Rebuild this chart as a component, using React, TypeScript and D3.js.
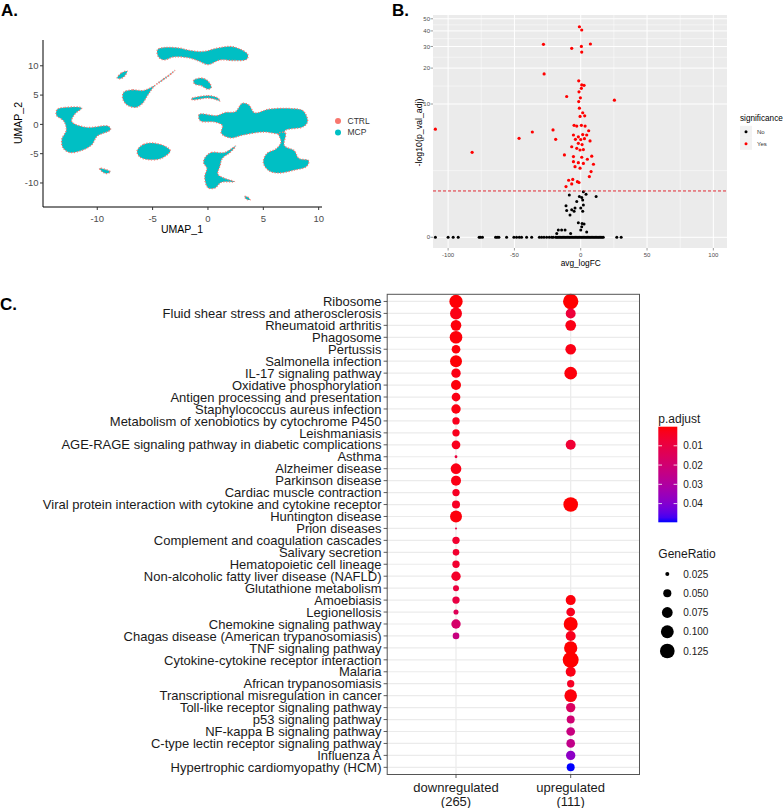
import React from "react";
import * as d3 from "d3";

const FONT = "'Liberation Sans', Arial, Helvetica, sans-serif";

// ---------------- Panel A: UMAP ----------------
const umapGroups = ["CTRL", "MCP"];
const umapColors = ["#F8766D", "#00BFC4"];
const umapTicks = [-10, -5, 0, 5, 10];
// cluster outlines (UMAP_1, UMAP_2)
const clusterTop = [[-4.56, 12.74], [-4.0, 13.1], [-2.5, 13.0], [-1.6, 12.6], [-0.4, 12.45], [0.8, 13.0], [2.0, 13.3], [2.9, 12.85], [3.6, 11.9], [3.5, 11.1], [2.3, 10.9], [1.1, 11.0], [0.0, 10.2], [-0.7, 10.7], [-1.6, 11.3], [-3.1, 11.5], [-4.0, 11.0], [-4.5, 11.6]];
const clusterSmallTop = [[-8.2, 7.9], [-7.8, 8.8], [-7.3, 9.1], [-7.5, 8.3], [-7.9, 7.8]];
const clusterTail = [[-7.6, 5.5], [-6.8, 5.9], [-5.8, 5.8], [-4.5, 7.0], [-3.2, 8.8], [-3.0, 9.2], [-3.4, 8.6], [-4.8, 6.6], [-5.5, 4.8], [-5.9, 3.6], [-6.5, 2.9], [-7.3, 3.3], [-7.7, 4.4]];
const clusterMid = [[-1.3, 7.5], [-0.6, 7.9], [0.0, 7.4], [0.3, 6.3], [0.0, 6.0], [-0.6, 6.6], [-1.2, 6.9]];
const clusterThin = [[-1.5, 4.4], [0.0, 4.9], [0.8, 4.6], [1.1, 4.0], [0.6, 4.3], [0.0, 4.5], [-1.4, 4.2]];
const clusterLeft = [[-13.6, 2.6], [-12.9, 2.9], [-11.4, 2.8], [-12.0, 1.8], [-12.3, 0.5], [-11.0, -0.5], [-9.0, -0.3], [-8.8, -0.9], [-10.0, -2.0], [-10.5, -3.5], [-11.5, -4.5], [-12.5, -4.8], [-13.1, -4.0], [-13.2, -2.5], [-12.8, -1.0], [-13.0, 0.5], [-13.7, 1.6]];
const clusterOval = [[-6.4, -4.5], [-5.8, -3.4], [-4.8, -3.2], [-3.8, -3.8], [-3.4, -4.5], [-4.2, -5.8], [-5.5, -6.0], [-6.2, -5.5]];
const clusterTiny1 = [[-9.8, -7.5], [-9.4, -7.6], [-8.8, -8.1], [-9.2, -8.4], [-9.6, -8.0]];
const clusterRight = [[-0.8, 1.7], [0.8, 1.5], [1.5, 2.0], [2.5, 2.2], [3.1, 3.6], [3.7, 3.3], [4.2, 2.0], [5.5, 2.6], [7.5, 2.7], [8.6, 2.3], [9.0, 0.5], [8.6, -0.4], [7.0, -1.0], [6.8, -1.6], [5.0, -1.3], [3.2, -1.8], [2.0, -2.3], [1.2, -1.5], [1.3, -0.2], [0.6, 0.4], [-0.7, 0.6]];
const clusterBottomRight = [[6.4, -1.5], [7.0, -1.5], [6.9, -3.6], [7.8, -4.5], [8.2, -5.8], [9.1, -6.2], [8.9, -7.2], [7.8, -7.8], [6.4, -8.3], [5.5, -7.9], [5.0, -6.5], [5.3, -5.0], [6.2, -4.1], [6.6, -3.0]];
const clusterBottomMid = [[-0.2, -5.5], [0.3, -4.8], [1.5, -4.8], [2.5, -3.7], [2.0, -4.8], [1.3, -5.8], [1.1, -7.0], [0.9, -8.5], [1.5, -9.2], [2.4, -9.8], [1.2, -9.9], [0.6, -10.9], [0.0, -10.8], [-0.3, -9.0], [-0.1, -7.5], [-0.4, -6.5]];
const clusterTiny2 = [[3.3, -12.3], [3.6, -12.4], [3.8, -12.9], [3.5, -12.8]];
const clusters = [clusterTop, clusterSmallTop, clusterTail, clusterMid, clusterThin, clusterLeft, clusterOval, clusterTiny1, clusterRight, clusterBottomRight, clusterBottomMid, clusterTiny2];

// ---------------- Panel B: volcano ----------------
const sigX = [-1.0, 0.75, -28.1, 0.5, 7.3, -6.8, 0.75, -27.6, -1.5, 0.75, 2.5, 0.5, -1.3, -10.6, -0.25, 25.4, -1.5, -1.0, 1.5, -0.5, 3.0, -109.6, -20.9, -5.0, -3.0, 0.5, 3.3, -36.5, 6.0, -46.5, -18.9, -5.5, -1.8, 1.5, 4.5, -4.0, 0, 2.8, 7.0, -1.8, 1.0, -6.8, -3.0, -0.5, 2.0, -81.9, -12.3, -5.5, 0.75, 5.0, 8.3, -5.5, -1.8, 2.0, 9.6, -4.3, -0.5, 7.8, 6.5, -9.1, -6.0, -2.5, -1.3, -11.1, -6.8];
const sigY = [43.2, 40.7, 31.2, 30.0, 31.4, 29.0, 27.0, 17.9, 15.7, 14.5, 14.4, 13.6, 12.7, 11.6, 11.3, 10.8, 10.5, 9.2, 8.4, 7.8, 7.9, 6.0, 5.9, 6.5, 6.4, 6.5, 6.4, 5.65, 5.8, 4.93, 4.83, 5.3, 5.1, 5.35, 5.3, 4.83, 4.8, 4.9, 4.66, 4.42, 4.3, 4.1, 3.96, 3.81, 3.85, 3.61, 3.4, 3.27, 3.22, 3.07, 3.3, 2.9, 2.83, 2.78, 2.72, 2.56, 2.47, 2.26, 1.98, 1.79, 1.83, 1.72, 1.68, 1.49, 1.61];
const nsX = [2.0, -8.6, -1.0, 0.75, 4.0, 11.6, 1.5, -3.0, -11.1, 2.0, 0, -10.6, -6.8, -4.3, -5.0, 1.5, -8.1, -1.8, 1.0, 2.5, -16.9, -14.4, -11.8, 0, 0.75, 4.5, -18.1, -7.6];
const nsY = [1.27, 1.14, 1.08, 1.05, 1.17, 1.08, 0.96, 0.9, 0.76, 0.79, 0.69, 0.62, 0.64, 0.69, 0.6, 0.6, 0.49, 0.3, 0.28, 0.27, 0.14, 0.14, 0.14, 0.14, 0.21, 0.1, 0.07, 0.07];
const zeroX = [-109.6, -100, -96.2, -92.4, -76.6, -75.6, -74.1, -64.2, -63, -61.7, -55.9, -50.4, -48.4, -46.3, -44.6, -40.8, -37, -31.2, -29.5, -27.7, -25.7, -23.7, -21.9, -20.7, -18.9, -18, -17, -16, -15, -14, -13, -12, -11, -10, -9, -8, -7, -6, -5, -4, -3, -2, -1, 0, 1, 2, 3, 4, 5, 6, 7, 8, 9, 10, 11, 12, 13, 14, 15, 16, 17, 27.2, 30.5];
const volcanoXTicks = [-100, -50, 0, 50, 100];
const volcanoXMinor = [-75, -25, 25, 75];
const volcanoYTicks = [0, 10, 20, 30, 40, 50];
const padjCut = 1.301;
const sigLevels = ["No", "Yes"];
const sigColors = ["#000000", "#FF0000"];

// ---------------- Panel C: KEGG dot plot ----------------
const pathways = [
  "Ribosome", "Fluid shear stress and atherosclerosis", "Rheumatoid arthritis", "Phagosome", "Pertussis",
  "Salmonella infection", "IL-17 signaling pathway", "Oxidative phosphorylation", "Antigen processing and presentation",
  "Staphylococcus aureus infection", "Metabolism of xenobiotics by cytochrome P450", "Leishmaniasis",
  "AGE-RAGE signaling pathway in diabetic complications", "Asthma", "Alzheimer disease", "Parkinson disease",
  "Cardiac muscle contraction", "Viral protein interaction with cytokine and cytokine receptor", "Huntington disease",
  "Prion diseases", "Complement and coagulation cascades", "Salivary secretion", "Hematopoietic cell lineage",
  "Non-alcoholic fatty liver disease (NAFLD)", "Glutathione metabolism", "Amoebiasis", "Legionellosis",
  "Chemokine signaling pathway", "Chagas disease (American trypanosomiasis)", "TNF signaling pathway",
  "Cytokine-cytokine receptor interaction", "Malaria", "African trypanosomiasis", "Transcriptional misregulation in cancer",
  "Toll-like receptor signaling pathway", "p53 signaling pathway", "NF-kappa B signaling pathway",
  "C-type lectin receptor signaling pathway", "Influenza A", "Hypertrophic cardiomyopathy (HCM)"
];
const clusterNames = ["downregulated", "upregulated"];
const clusterCounts = ["(265)", "(111)"];
const downRatio = [0.106, 0.089, 0.074, 0.097, 0.055, 0.089, 0.061, 0.067, 0.055, 0.061, 0.044, 0.044, 0.055, 0.021, 0.074, 0.067, 0.044, 0.049, 0.089, 0.019, 0.044, 0.039, 0.044, 0.061, 0.035, 0.044, 0.030, 0.061, 0.039, null, null, null, null, null, null, null, null, null, null, null];
const downPadj = [0.0005, 0.002, 0.001, 0.0008, 0.001, 0.0006, 0.002, 0.001, 0.002, 0.0015, 0.003, 0.003, 0.003, 0.009, 0.002, 0.002, 0.004, 0.004, 0.001, 0.01, 0.006, 0.006, 0.006, 0.005, 0.009, 0.01, 0.014, 0.018, 0.023, null, null, null, null, null, null, null, null, null, null, null];
const upRatio = [0.135, 0.067, 0.074, null, 0.074, null, 0.097, null, null, null, null, null, 0.067, null, null, null, null, 0.125, null, null, null, null, null, null, null, 0.067, 0.055, 0.115, 0.067, 0.106, 0.145, 0.067, 0.044, 0.097, 0.061, 0.049, 0.055, 0.055, 0.061, 0.049];
const upPadj = [0.0001, 0.008, 0.002, null, 0.002, null, 0.001, null, null, null, null, null, 0.007, null, null, null, null, 0.0003, null, null, null, null, null, null, null, 0.001, 0.003, 0.0002, 0.003, 0.0002, 0.0001, 0.002, 0.004, 0.001, 0.016, 0.02, 0.023, 0.025, 0.038, 0.0497];
const padjTicks = [0.01, 0.02, 0.03, 0.04];
const ratioLegend = [0.025, 0.05, 0.075, 0.1, 0.125];

export default function App() {
  // ---- A scales
  const xA = d3.scaleLinear().domain([-14.9, 10.3]).range([43, 322]);
  const yA = d3.scaleLinear().domain([-14.1, 14.4]).range([207, 40]);
  const clusterPath = d3.line<number[]>().x(d => xA(d[0])).y(d => yA(d[1])).curve(d3.curveCatmullRomClosed.alpha(0.5));

  // ---- B scales
  const xB = d3.scaleLinear().domain([-111.4, 110.3]).range([433, 727]);
  const yB = d3.scaleSymlog().constant(1).domain([-0.213, 53.6]).range([248, 15]);
  const yMinor = volcanoYTicks.slice(0, -1).map((t, i) => yB.invert((yB(t) + yB(volcanoYTicks[i + 1])) / 2));

  // ---- C scales
  const xC = d3.scalePoint<string>().domain(clusterNames).range([387.2, 639.5]).padding(0.6);
  const yC = d3.scalePoint<string>().domain(pathways).range([294.3, 774.5]).padding(0.6);
  const allP = [...downPadj, ...upPadj].filter(v => v != null) as number[];
  const pExt = d3.extent(allP) as [number, number];
  const color = d3.scaleLinear<string>().domain(pExt).range(["#FF0000", "#0000FF"]).interpolate(d3.interpolateLab);
  const area = d3.scaleLinear().domain([0.025, 0.125]).range([4, 53.8]);
  const rad = (v: number) => Math.sqrt(Math.max(area(v), 0.9));
  const barY = d3.scaleLinear().domain(pExt).range([426.7, 522.3]);
  const stops = d3.range(0, 21).map(i => i / 20);

  const dots: { x: number; y: number; r: number; c: string; k: string }[] = [];
  pathways.forEach((p, i) => {
    if (downRatio[i] != null) dots.push({ x: xC("downregulated")!, y: yC(p)!, r: rad(downRatio[i]!), c: color(downPadj[i]!), k: "d" + i });
    if (upRatio[i] != null) dots.push({ x: xC("upregulated")!, y: yC(p)!, r: rad(upRatio[i]!), c: color(upPadj[i]!), k: "u" + i });
  });

  return (
    <svg width={784} height={808} style={{ position: "absolute", left: 0, top: 0, background: "#fff" }} fontFamily={FONT}>
      {/* ===== Panel A ===== */}
      <text x={1} y={16} fontSize={17} fontWeight="bold">A.</text>
      <g>
        {clusters.map((c, i) => (
          <path key={i} d={clusterPath(c) || ""} fill={umapColors[1]} stroke={umapColors[0]} strokeWidth={1.3} strokeDasharray="1.2 1.6" />
        ))}
        <line x1={43} x2={43} y1={40} y2={207} stroke="#000" strokeWidth={1} />
        <line x1={43} x2={322} y1={207} y2={207} stroke="#000" strokeWidth={1} />
        {umapTicks.map(t => (
          <g key={"ay" + t}>
            <line x1={40} x2={43} y1={yA(t)} y2={yA(t)} stroke="#333" />
            <text x={38.5} y={yA(t)} dy="0.35em" textAnchor="end" fontSize={9.5} fill="#4D4D4D">{t}</text>
          </g>
        ))}
        {umapTicks.map(t => (
          <g key={"ax" + t}>
            <line x1={xA(t)} x2={xA(t)} y1={207} y2={210} stroke="#333" />
            <text x={xA(t)} y={219} dy="0.35em" textAnchor="middle" fontSize={9.5} fill="#4D4D4D">{t}</text>
          </g>
        ))}
        <text x={182} y={229} dy="0.35em" textAnchor="middle" fontSize={10.5}>UMAP_1</text>
        <text transform="translate(18,123) rotate(-90)" dy="0.35em" textAnchor="middle" fontSize={10.5}>UMAP_2</text>
        {umapGroups.map((g, i) => (
          <g key={g}>
            <circle cx={338} cy={121 + i * 11.5} r={3} fill={umapColors[i]} />
            <text x={347.5} y={121 + i * 11.5} dy="0.35em" fontSize={8.5} fill="#333">{g}</text>
          </g>
        ))}
      </g>

      {/* ===== Panel B ===== */}
      <text x={392} y={16} fontSize={17} fontWeight="bold">B.</text>
      <g>
        <rect x={433} y={15} width={294} height={233} fill="#EBEBEB" />
        {volcanoXMinor.map(t => <line key={"bxm" + t} x1={xB(t)} x2={xB(t)} y1={15} y2={248} stroke="#fff" strokeWidth={0.5} />)}
        {yMinor.map((t, i) => <line key={"bym" + i} x1={433} x2={727} y1={yB(t)} y2={yB(t)} stroke="#fff" strokeWidth={0.5} />)}
        {volcanoXTicks.map(t => <line key={"bx" + t} x1={xB(t)} x2={xB(t)} y1={15} y2={248} stroke="#fff" strokeWidth={1} />)}
        {volcanoYTicks.map(t => <line key={"by" + t} x1={433} x2={727} y1={yB(t)} y2={yB(t)} stroke="#fff" strokeWidth={1} />)}
        {zeroX.map((x, i) => <circle key={"z" + i} cx={xB(x)} cy={yB(0)} r={1.5} fill={sigColors[0]} />)}
        {nsX.map((x, i) => <circle key={"n" + i} cx={xB(x)} cy={yB(nsY[i])} r={1.5} fill={sigColors[0]} />)}
        {sigX.map((x, i) => <circle key={"s" + i} cx={xB(x)} cy={yB(sigY[i])} r={1.6} fill={sigColors[1]} />)}
        <line x1={433} x2={727} y1={yB(padjCut)} y2={yB(padjCut)} stroke="#E0141E" strokeWidth={0.9} strokeDasharray="3 2" />
        {volcanoYTicks.map(t => (
          <g key={"byt" + t}>
            <line x1={430.5} x2={433} y1={yB(t)} y2={yB(t)} stroke="#555" strokeWidth={0.6} />
            <text x={430} y={yB(t)} dy="0.35em" textAnchor="end" fontSize={6} fill="#4D4D4D">{t}</text>
          </g>
        ))}
        {volcanoXTicks.map(t => (
          <g key={"bxt" + t}>
            <line x1={xB(t)} x2={xB(t)} y1={248} y2={250.5} stroke="#555" strokeWidth={0.6} />
            <text x={xB(t)} y={255} dy="0.35em" textAnchor="middle" fontSize={6} fill="#4D4D4D">{t}</text>
          </g>
        ))}
        <text x={580.7} y={263.5} dy="0.35em" textAnchor="middle" fontSize={8.3}>avg_logFC</text>
        <text transform="translate(418.5,132.5) rotate(-90)" dy="0.35em" textAnchor="middle" fontSize={8.8}>-log10(p_val_adj)</text>
        <text x={740} y={117.7} dy="0.35em" fontSize={8.2}>significance</text>
        {sigLevels.map((s, i) => (
          <g key={s}>
            <rect x={740} y={125.8 + i * 12} width={12} height={12} fill="#F2F2F2" />
            <circle cx={746} cy={131.8 + i * 12} r={1.5} fill={sigColors[i]} />
            <text x={757} y={131.8 + i * 12} dy="0.35em" fontSize={6} fill="#333">{s}</text>
          </g>
        ))}
      </g>

      {/* ===== Panel C ===== */}
      <text x={0} y={310} fontSize={17} fontWeight="bold">C.</text>
      <g>
        <rect x={387.2} y={294.3} width={252.3} height={480.2} fill="#fff" />
        {pathways.map(p => <line key={"gy" + p} x1={387.2} x2={639.5} y1={yC(p)} y2={yC(p)} stroke="#EBEBEB" strokeWidth={1.2} />)}
        {clusterNames.map(c => <line key={"gx" + c} x1={xC(c)} x2={xC(c)} y1={294.3} y2={774.5} stroke="#EBEBEB" strokeWidth={1.2} />)}
        {dots.map(d => <circle key={d.k} cx={d.x} cy={d.y} r={d.r} fill={d.c} />)}
        <rect x={387.2} y={294.3} width={252.3} height={480.2} fill="none" stroke="#555" strokeWidth={1} />
        {pathways.map(p => (
          <g key={"ly" + p}>
            <line x1={383.6} x2={387.2} y1={yC(p)} y2={yC(p)} stroke="#333" strokeWidth={0.8} />
            <text x={381.5} y={yC(p)} dy="0.36em" textAnchor="end" fontSize={13} fill="#1A1A1A">{p}</text>
          </g>
        ))}
        {clusterNames.map((c, i) => (
          <g key={"lx" + c}>
            <line x1={xC(c)} x2={xC(c)} y1={774.5} y2={778} stroke="#333" strokeWidth={0.8} />
            <text x={xC(c)} y={787} dy="0.35em" textAnchor="middle" fontSize={13} fill="#1A1A1A">{c}</text>
            <text x={xC(c)} y={801.5} dy="0.35em" textAnchor="middle" fontSize={13} fill="#1A1A1A">{clusterCounts[i]}</text>
          </g>
        ))}
        {/* p.adjust legend */}
        <defs>
          <linearGradient id="padjGrad" x1="0" y1="0" x2="0" y2="1">
            {stops.map(s => <stop key={s} offset={s} stopColor={color(pExt[0] + (pExt[1] - pExt[0]) * s)} />)}
          </linearGradient>
        </defs>
        <text x={658.3} y={419} dy="0.35em" fontSize={12} fill="#1A1A1A">p.adjust</text>
        <rect x={658.3} y={426.7} width={19} height={95.6} fill="url(#padjGrad)" />
        {padjTicks.map(t => (
          <g key={"pt" + t}>
            <line x1={658.3} x2={662} y1={barY(t)} y2={barY(t)} stroke="#fff" strokeWidth={0.8} />
            <line x1={673.6} x2={677.3} y1={barY(t)} y2={barY(t)} stroke="#fff" strokeWidth={0.8} />
            <text x={683.3} y={barY(t)} dy="0.35em" fontSize={10} fill="#1A1A1A">{t}</text>
          </g>
        ))}
        {/* GeneRatio legend */}
        <text x={658.3} y={553.3} dy="0.35em" fontSize={12} fill="#1A1A1A">GeneRatio</text>
        {ratioLegend.map((r, i) => (
          <g key={"rl" + r}>
            <circle cx={667.3} cy={574 + i * 19.25} r={rad(r)} fill="#000" />
            <text x={683.3} y={574 + i * 19.25} dy="0.35em" fontSize={10} fill="#1A1A1A">{d3.format(".3f")(r)}</text>
          </g>
        ))}
      </g>
    </svg>
  );
}
